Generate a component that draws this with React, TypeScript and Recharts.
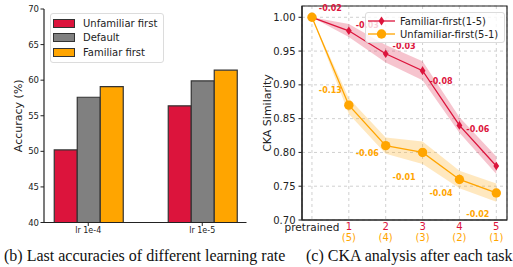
import React from 'react';
import {
  BarChart,
  Bar,
  XAxis,
  YAxis,
  Legend,
  ComposedChart,
  Line,
  Area,
  Scatter,
  CartesianGrid,
  ReferenceArea,
} from 'recharts';

// (b) last accuracies per learning rate
const lrGroups = ['lr 1e-4', 'lr 1e-5'];
const unfamiliarFirstAcc = [50.2, 56.4];
const defaultAcc = [57.6, 59.9];
const familiarFirstAcc = [59.1, 61.4];
const accTicks = [40, 45, 50, 55, 60, 65, 70];
const barNames = ['Unfamiliar first', 'Default', 'Familiar first'];

// (c) CKA similarity after each task
const taskIndex = [0, 1, 2, 3, 4, 5];
const taskLabels = ['pretrained', '1', '2', '3', '4', '5'];
const reverseLabels = ['', '(5)', '(4)', '(3)', '(2)', '(1)'];
const familiarCka = [1.0, 0.98, 0.946, 0.921, 0.84, 0.78];
const familiarLo = [1.0, 0.971, 0.933, 0.907, 0.829, 0.768];
const familiarHi = [1.0, 0.99, 0.959, 0.935, 0.852, 0.794];
const unfamiliarCka = [1.0, 0.87, 0.81, 0.8, 0.76, 0.74];
const unfamiliarLo = [1.0, 0.857, 0.798, 0.783, 0.747, 0.727];
const unfamiliarHi = [1.0, 0.88, 0.822, 0.816, 0.773, 0.754];
const ckaTicks = [0.7, 0.75, 0.8, 0.85, 0.9, 0.95, 1.0];
const lineNames = ['Familiar-first(1-5)', 'Unfamiliar-first(5-1)'];

// drop annotations between consecutive tasks
const noteX = [0.5, 1.5, 2.5, 3.5, 4.5];
const familiarNotes = ['-0.02', '-0.03', '-0.03', '-0.08', '-0.06'];
const familiarNoteY = [1.014, 0.989, 0.957, 0.905, 0.835];
const unfamiliarNotes = ['-0.13', '-0.06', '-0.01', '-0.04', '-0.02'];
const unfamiliarNoteY = [0.892, 0.799, 0.764, 0.74, 0.709];

const RED = '#DC143C';
const ORANGE = '#FFA500';
const GRAY = '#808080';
const INK = '#222';
const FONT = '"DejaVu Sans", sans-serif';

const barData = lrGroups.map((name, i) => ({
  name,
  unfamiliar: unfamiliarFirstAcc[i],
  def: defaultAcc[i],
  familiar: familiarFirstAcc[i],
}));

const ckaData = taskIndex.map((x, i) => ({
  x,
  fam: familiarCka[i],
  famBand: [familiarLo[i], familiarHi[i]],
  unf: unfamiliarCka[i],
  unfBand: [unfamiliarLo[i], unfamiliarHi[i]],
}));

const famNotes = noteX.map((x, i) => ({ x, y: familiarNoteY[i], text: familiarNotes[i] }));
const unfNotes = noteX.map((x, i) => ({ x, y: unfamiliarNoteY[i], text: unfamiliarNotes[i] }));

const legendBox: React.CSSProperties = {
  background: 'rgba(255,255,255,0.8)',
  border: '1px solid #dcdcdc',
  borderRadius: 3,
  padding: '2px 6px 2px 2px',
  fontFamily: FONT,
  fontSize: 10,
  color: INK,
};

// keep the legend in plotting order, not sorted
const pick = (payload: any[], names: string[]) =>
  names.map((n) => (payload || []).find((p: any) => p.value === n)).filter(Boolean);

const BarLegend = ({ payload }: any) => (
  <div style={legendBox}>
    {pick(payload, barNames).map((p: any) => (
      <div key={p.value} style={{ display: 'flex', alignItems: 'center', height: 14.6 }}>
        <span
          style={{
            display: 'inline-block',
            width: 20,
            height: 7,
            background: p.color,
            border: '1px solid #333',
            marginRight: 8,
          }}
        />
        <span>{p.value}</span>
      </div>
    ))}
  </div>
);

const CkaLegend = ({ payload }: any) => (
  <div style={legendBox}>
    {pick(payload, lineNames).map((p: any) => (
      <div key={p.value} style={{ display: 'flex', alignItems: 'center', height: 12.7 }}>
        <svg width={27} height={12} style={{ marginRight: 5 }}>
          <line x1={0} y1={6} x2={27} y2={6} stroke={p.color} strokeWidth={1.3} />
          {p.value === lineNames[0] ? (
            <path d="M13.5,1.5 L16.5,6 L13.5,10.5 L10.5,6 Z" fill={p.color} />
          ) : (
            <circle cx={13.5} cy={6} r={4.7} fill={p.color} />
          )}
        </svg>
        <span>{p.value}</span>
      </div>
    ))}
  </div>
);

const Diamond = (props: any) => {
  const { cx, cy, index } = props;
  if (cx == null || cy == null) return <g key={`d-${index}`} />;
  return (
    <path
      key={`d-${index}`}
      d={`M${cx},${cy - 4.3} L${cx + 2.9},${cy} L${cx},${cy + 4.3} L${cx - 2.9},${cy} Z`}
      fill={RED}
    />
  );
};

const TaskTick = (props: any) => {
  const { x, y, payload } = props;
  const i = taskIndex.indexOf(payload.value);
  const first = i === 0;
  return (
    <g>
      <text
        x={x}
        y={y + (first ? 5.5 : 4.5)}
        textAnchor="middle"
        fontFamily={FONT}
        fontSize={first ? 10.5 : 10}
        fill={first ? INK : RED}
      >
        {taskLabels[i]}
      </text>
      {reverseLabels[i] && (
        <text x={x} y={y + 15} textAnchor="middle" fontFamily={FONT} fontSize={10} fill={ORANGE}>
          {reverseLabels[i]}
        </text>
      )}
    </g>
  );
};

const noteShape = (color: string) => (props: any) => (
  <text
    x={props.cx}
    y={props.cy}
    dy={3}
    textAnchor="middle"
    fontFamily={FONT}
    fontSize={8}
    fontWeight="bold"
    fill={color}
  >
    {props.payload.text}
  </text>
);

const caption: React.CSSProperties = {
  position: 'absolute',
  top: 247.5,
  fontFamily: '"Liberation Serif", serif',
  fontSize: 16,
  lineHeight: '16px',
  whiteSpace: 'nowrap',
  color: '#111',
};

export default function App() {
  return (
    <div
      style={{
        position: 'absolute',
        left: 0,
        top: 0,
        width: 513,
        height: 267,
        background: '#fff',
        fontFamily: FONT,
      }}
    >
      <div style={{ position: 'absolute', left: 0, top: 0 }}>
        <BarChart
          width={250}
          height={240}
          data={barData}
          margin={{ top: 9, right: 3.5, bottom: 2.5, left: 6 }}
          barGap={0}
          barSize={23}
        >
          <XAxis
            dataKey="name"
            padding={{ left: -12.75, right: -12.75 }}
            height={15}
            interval={0}
            tick={{ fontSize: 8, fill: INK, fontFamily: FONT }}
            tickLine={{ stroke: INK }}
            tickSize={3.5}
            tickMargin={1.3}
            axisLine={{ stroke: INK, strokeWidth: 1.2 }}
          />
          <XAxis
            xAxisId="top"
            dataKey="name"
            orientation="top"
            height={0}
            tick={false}
            tickLine={false}
            axisLine={{ stroke: INK, strokeWidth: 1.2 }}
          />
          <YAxis
            domain={[40, 70]}
            ticks={accTicks}
            width={38}
            interval={0}
            tick={{ fontSize: 8.5, fill: INK, fontFamily: FONT }}
            tickLine={{ stroke: INK }}
            tickSize={3.5}
            tickMargin={1.5}
            axisLine={{ stroke: INK, strokeWidth: 1.2 }}
            label={{
              value: 'Accuracy (%)',
              angle: -90,
              position: 'insideLeft',
              offset: 12,
              style: { textAnchor: 'middle', fontSize: 11, fill: INK, fontFamily: FONT },
            }}
          />
          <YAxis
            yAxisId="right"
            orientation="right"
            width={0}
            tick={false}
            tickLine={false}
            axisLine={{ stroke: INK, strokeWidth: 1.2 }}
          />
          <Legend
            layout="vertical"
            align="center"
            verticalAlign="middle"
            content={<BarLegend />}
            wrapperStyle={{ top: 13, left: 50, width: 'auto', height: 'auto' }}
          />
          <Bar dataKey="unfamiliar" name={barNames[0]} fill={RED} stroke="#333" strokeWidth={1.2} isAnimationActive={false} />
          <Bar dataKey="def" name={barNames[1]} fill={GRAY} stroke="#333" strokeWidth={1.2} isAnimationActive={false} />
          <Bar dataKey="familiar" name={barNames[2]} fill={ORANGE} stroke="#333" strokeWidth={1.2} isAnimationActive={false} />
        </BarChart>
      </div>

      <div style={{ position: 'absolute', left: 250, top: 0 }}>
        <ComposedChart
          width={263}
          height={250}
          data={ckaData}
          margin={{ top: 6, right: 6, bottom: 5, left: 10 }}
        >
          <CartesianGrid stroke="#d0d0d0" strokeDasharray="3 3" />
          <XAxis
            type="number"
            dataKey="x"
            domain={[-0.27, 5.29]}
            ticks={taskIndex}
            interval={0}
            height={25}
            tick={<TaskTick />}
            tickLine={false}
            tickSize={3.5}
            tickMargin={2}
            axisLine={{ stroke: INK, strokeWidth: 1.2 }}
          />
          <YAxis
            type="number"
            domain={[0.7, 1.0167]}
            ticks={ckaTicks}
            interval={0}
            width={42}
            tickFormatter={(v: number) => v.toFixed(2)}
            tick={{ fontSize: 10, fill: INK, fontFamily: FONT }}
            tickLine={{ stroke: INK }}
            tickSize={3.5}
            tickMargin={3}
            axisLine={{ stroke: INK, strokeWidth: 1.2 }}
            label={{
              value: 'CKA Similarity',
              angle: -90,
              position: 'insideLeft',
              offset: 7,
              style: { textAnchor: 'middle', fontSize: 11, fill: INK, fontFamily: FONT },
            }}
          />
          <ReferenceArea
            x1={-0.27}
            x2={5.29}
            y1={0.7}
            y2={1.0167}
            fill="none"
            stroke={INK}
            strokeWidth={1.2}
            ifOverflow="visible"
          />
          <Area
            type="linear"
            dataKey="famBand"
            stroke="none"
            fill={RED}
            fillOpacity={0.25}
            legendType="none"
            isAnimationActive={false}
          />
          <Area
            type="linear"
            dataKey="unfBand"
            stroke="none"
            fill={ORANGE}
            fillOpacity={0.25}
            legendType="none"
            isAnimationActive={false}
          />
          <Scatter data={famNotes} dataKey="y" legendType="none" shape={noteShape(RED)} isAnimationActive={false} />
          <Scatter data={unfNotes} dataKey="y" legendType="none" shape={noteShape(ORANGE)} isAnimationActive={false} />
          <Line
            type="linear"
            dataKey="fam"
            name={lineNames[0]}
            stroke={RED}
            strokeWidth={1.3}
            dot={Diamond}
            activeDot={false}
            isAnimationActive={false}
          />
          <Line
            type="linear"
            dataKey="unf"
            name={lineNames[1]}
            stroke={ORANGE}
            strokeWidth={1.3}
            dot={{ r: 4.7, fill: ORANGE, stroke: ORANGE, strokeWidth: 0 }}
            activeDot={false}
            isAnimationActive={false}
          />
          <Legend
            layout="vertical"
            align="center"
            verticalAlign="middle"
            content={<CkaLegend />}
            wrapperStyle={{ top: 12, left: 115, width: 'auto', height: 'auto' }}
          />
        </ComposedChart>
      </div>

      <div style={{ ...caption, left: 4 }}>(b) Last accuracies of different learning rate</div>
      <div style={{ ...caption, left: 306 }}>(c) CKA analysis after each task</div>
    </div>
  );
}
